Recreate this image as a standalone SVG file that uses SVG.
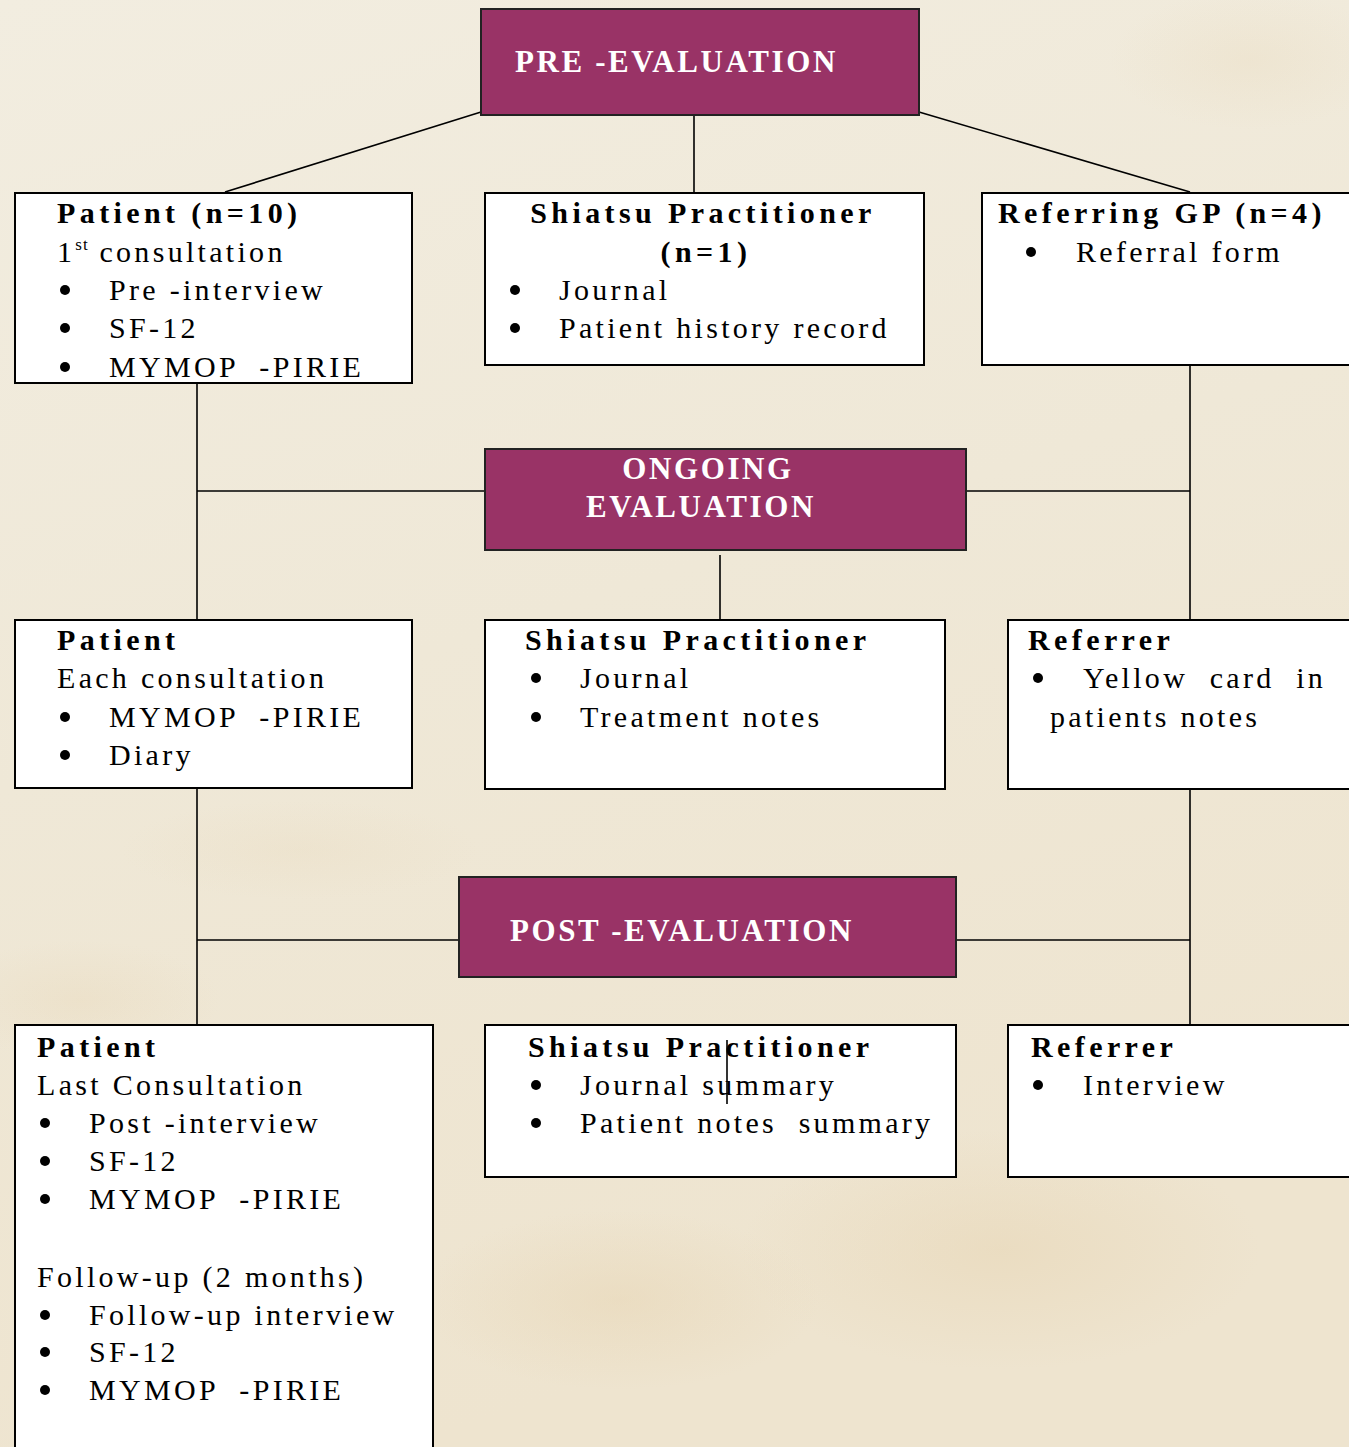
<svg xmlns="http://www.w3.org/2000/svg" width="1349" height="1447" viewBox="0 0 1349 1447">
<style>
.box{fill:#ffffff;stroke:#000;stroke-width:2}
.hdr{fill:#993366;stroke:#222;stroke-width:2}
.ht{font-family:"Liberation Serif",serif;font-weight:bold;font-size:31px;fill:#fff;letter-spacing:2.6px}
.b{font-family:"Liberation Serif",serif;font-weight:bold;font-size:30px;fill:#000;letter-spacing:4.4px}
.r{font-family:"Liberation Serif",serif;font-size:30px;fill:#000;letter-spacing:3.3px}
.dot{fill:#000}
.con{stroke:#000;stroke-width:1.6;fill:none}
</style>
<defs>
<linearGradient id="bg" x1="0" y1="0" x2="0.3" y2="1">
<stop offset="0" stop-color="#f2ede0"/>
<stop offset="0.5" stop-color="#efe8d7"/>
<stop offset="1" stop-color="#eee4cf"/>
</linearGradient>
<radialGradient id="bl">
<stop offset="0" stop-color="#e6d3b0" stop-opacity="0.45"/>
<stop offset="1" stop-color="#e6d3b0" stop-opacity="0"/>
</radialGradient>
</defs>
<rect x="0" y="0" width="1349" height="1447" fill="url(#bg)"/>
<ellipse cx="1000" cy="1250" rx="260" ry="120" fill="url(#bl)"/>
<ellipse cx="620" cy="1300" rx="200" ry="90" fill="url(#bl)"/>
<ellipse cx="80" cy="1000" rx="140" ry="60" fill="url(#bl)" opacity="0.6"/>
<ellipse cx="1250" cy="60" rx="140" ry="70" fill="url(#bl)" opacity="0.5"/>
<ellipse cx="300" cy="850" rx="180" ry="50" fill="url(#bl)" opacity="0.4"/>

<g id="connectors">
<line class="con" x1="481" y1="112" x2="225" y2="192"/>
<line class="con" x1="694" y1="107" x2="694" y2="192"/>
<line class="con" x1="919" y1="112" x2="1190" y2="192"/>
<line class="con" x1="197" y1="383" x2="197" y2="620"/>
<line class="con" x1="197" y1="491" x2="485" y2="491"/>
<line class="con" x1="955" y1="491" x2="1190" y2="491"/>
<line class="con" x1="1190" y1="363" x2="1190" y2="620"/>
<line class="con" x1="720" y1="555" x2="720" y2="626"/>
<line class="con" x1="197" y1="788" x2="197" y2="1025"/>
<line class="con" x1="197" y1="940" x2="459" y2="940"/>
<line class="con" x1="956" y1="940" x2="1190" y2="940"/>
<line class="con" x1="1190" y1="789" x2="1190" y2="1025"/>
</g>

<g id="pre-evaluation">
<rect class="hdr" x="481" y="9" width="438" height="106"/>
<text class="ht" x="515" y="72">PRE -EVALUATION</text>
</g>

<g id="patient-pre">
<rect class="box" x="15" y="193" width="397" height="190"/>
<text class="b" x="57" y="223">Patient (n=10)</text>
<text class="r" x="57" y="262">1<tspan font-size="17" dy="-12" letter-spacing="1">st</tspan><tspan dy="12"> consultation</tspan></text>
<circle class="dot" cx="65" cy="290" r="5"/>
<text class="r" x="109" y="300">Pre -interview</text>
<circle class="dot" cx="65" cy="328" r="5"/>
<text class="r" x="109" y="338">SF-12</text>
<circle class="dot" cx="65" cy="367" r="5"/>
<text class="r" x="109" y="377" xml:space="preserve">MYMOP  -PIRIE</text>
</g>

<g id="shiatsu-pre">
<rect class="box" x="485" y="193" width="439" height="172"/>
<text class="b" x="703" y="223" text-anchor="middle">Shiatsu Practitioner</text>
<text class="b" x="706" y="262" text-anchor="middle">(n=1)</text>
<circle class="dot" cx="515" cy="290" r="5"/>
<text class="r" x="559" y="300">Journal</text>
<circle class="dot" cx="515" cy="328" r="5"/>
<text class="r" x="559" y="338">Patient history record</text>
</g>

<g id="gp-pre">
<rect class="box" x="982" y="193" width="380" height="172"/>
<text class="b" x="998" y="223">Referring GP (n=4)</text>
<circle class="dot" cx="1031" cy="252" r="5"/>
<text class="r" x="1076" y="262">Referral form</text>
</g>

<g id="ongoing-evaluation">
<rect class="hdr" x="485" y="449" width="481" height="101"/>
<text class="ht" x="708" y="479" text-anchor="middle">ONGOING</text>
<text class="ht" x="701" y="517" text-anchor="middle">EVALUATION</text>
</g>

<g id="patient-ongoing">
<rect class="box" x="15" y="620" width="397" height="168"/>
<text class="b" x="57" y="650">Patient</text>
<text class="r" x="57" y="688">Each consultation</text>
<circle class="dot" cx="65" cy="717" r="5"/>
<text class="r" x="109" y="727" xml:space="preserve">MYMOP  -PIRIE</text>
<circle class="dot" cx="65" cy="755" r="5"/>
<text class="r" x="109" y="765">Diary</text>
</g>

<g id="shiatsu-ongoing">
<rect class="box" x="485" y="620" width="460" height="169"/>
<text class="b" x="525" y="650">Shiatsu Practitioner</text>
<circle class="dot" cx="536" cy="678" r="5"/>
<text class="r" x="580" y="688">Journal</text>
<circle class="dot" cx="536" cy="717" r="5"/>
<text class="r" x="580" y="727">Treatment notes</text>
</g>

<g id="referrer-ongoing">
<rect class="box" x="1008" y="620" width="354" height="169"/>
<text class="b" x="1028" y="650">Referrer</text>
<circle class="dot" cx="1038" cy="678" r="5"/>
<text class="r" x="1083" y="688" xml:space="preserve">Yellow  card  in</text>
<text class="r" x="1050" y="727">patients notes</text>
</g>

<g id="post-evaluation">
<rect class="hdr" x="459" y="877" width="497" height="100"/>
<text class="ht" x="510" y="941">POST -EVALUATION</text>
</g>

<g id="patient-post">
<rect class="box" x="15" y="1025" width="418" height="440"/>
<text class="b" x="37" y="1057">Patient</text>
<text class="r" x="37" y="1095">Last Consultation</text>
<circle class="dot" cx="45" cy="1123" r="5"/>
<text class="r" x="89" y="1133">Post -interview</text>
<circle class="dot" cx="45" cy="1161" r="5"/>
<text class="r" x="89" y="1171">SF-12</text>
<circle class="dot" cx="45" cy="1199" r="5"/>
<text class="r" x="89" y="1209" xml:space="preserve">MYMOP  -PIRIE</text>
<text class="r" x="37" y="1287">Follow-up (2 months)</text>
<circle class="dot" cx="45" cy="1315" r="5"/>
<text class="r" x="89" y="1325">Follow-up interview</text>
<circle class="dot" cx="45" cy="1352" r="5"/>
<text class="r" x="89" y="1362">SF-12</text>
<circle class="dot" cx="45" cy="1390" r="5"/>
<text class="r" x="89" y="1400" xml:space="preserve">MYMOP  -PIRIE</text>
</g>

<g id="shiatsu-post">
<rect class="box" x="485" y="1025" width="471" height="152"/>
<text class="b" x="528" y="1057">Shiatsu Practitioner</text>
<circle class="dot" cx="536" cy="1085" r="5"/>
<text class="r" x="580" y="1095">Journal summary</text>
<circle class="dot" cx="536" cy="1123" r="5"/>
<text class="r" x="580" y="1133" xml:space="preserve">Patient notes  summary</text>
<line class="con" x1="727" y1="1040" x2="727" y2="1104"/>
</g>

<g id="referrer-post">
<rect class="box" x="1008" y="1025" width="354" height="152"/>
<text class="b" x="1031" y="1057">Referrer</text>
<circle class="dot" cx="1038" cy="1085" r="5"/>
<text class="r" x="1083" y="1095">Interview</text>
</g>
</svg>
